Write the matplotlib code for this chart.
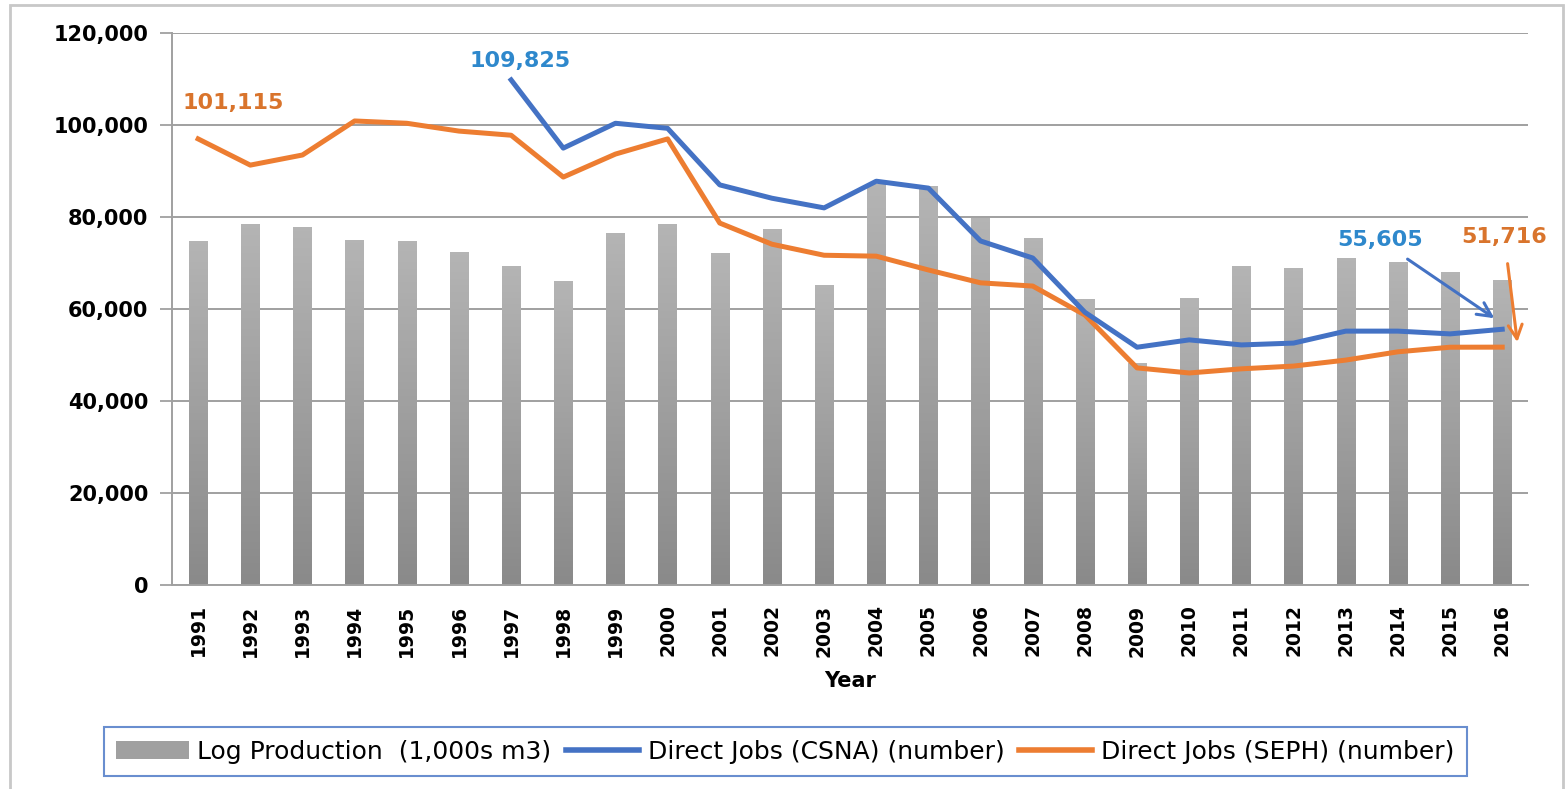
import numpy as np
import matplotlib
matplotlib.use("Agg")
import matplotlib.pyplot as plt
from matplotlib.patches import Patch, Rectangle
from matplotlib.lines import Line2D

# data
years = [str(y) for y in range(1991, 2017)]
log_production = [74.6, 78.3, 77.8, 75.0, 74.6, 72.4, 69.3, 65.9, 76.5, 78.5,
                  72.0, 77.4, 65.2, 87.0, 86.7, 79.8, 75.4, 62.0, 48.2, 62.4,
                  69.3, 68.9, 71.1, 70.2, 68.0, 66.3]
log_production = [v * 1000 for v in log_production]

csna_years = years[6:]
csna_jobs = [109825, 95000, 100400, 99300, 87000, 84100, 82000, 87800, 86300,
             74800, 71100, 59300, 51700, 53300, 52200, 52600, 55200, 55200,
             54600, 55605]
seph_jobs = [97000, 91300, 93500, 100900, 100400, 98700, 97800, 88700, 93700,
             97000, 78700, 74100, 71700, 71500, 68500, 65700, 65000, 58700,
             47200, 46100, 47000, 47600, 48900, 50700, 51700, 51716]

yticks = [0, 20000, 40000, 60000, 80000, 100000, 120000]

blue = "#4472C4"
orange = "#ED7D31"
blue_txt = "#2E88CC"
orange_txt = "#D9742C"

fig = plt.figure(figsize=(15.67, 7.89), dpi=100)
ax = fig.add_axes([0.1098, 0.2586, 0.8655, 0.6994])

x = np.arange(len(years))
xc = x[6:]

# bars with a vertical grey gradient (darker at the base)
bars = ax.bar(x, log_production, width=0.35, color="none", zorder=2)
grad = np.linspace(0, 1, 100).reshape(-1, 1)
cmap = matplotlib.colors.LinearSegmentedColormap.from_list("g", ["#8A8A8A", "#B4B4B4"])
for b in bars:
    bx, bw, bh = b.get_x(), b.get_width(), b.get_height()
    ax.imshow(grad, extent=[bx, bx + bw, 0, bh], cmap=cmap, aspect="auto",
              zorder=2, origin="lower")

ax.plot(xc, csna_jobs, color=blue, lw=3.6, zorder=4, solid_joinstyle="round")
ax.plot(x, seph_jobs, color=orange, lw=3.6, zorder=3, solid_joinstyle="round")

ax.set_xlim(-0.5, len(years) - 0.5)
ax.set_ylim(0, 120000)
ax.set_yticks(yticks)
ax.set_yticklabels([f"{v:,}" for v in yticks], fontsize=15, fontweight="bold")
ax.set_xticks(x)
ax.set_xticklabels(years, rotation=90, fontsize=13.5, fontweight="bold")
ax.tick_params(axis="y", length=9, color="#A0A0A0", width=1.3, pad=8)
ax.tick_params(axis="x", length=0, pad=14)
ax.grid(axis="y", color="#A0A0A0", lw=1.4, zorder=0)
ax.set_axisbelow(True)
for s in ["top", "right"]:
    ax.spines[s].set_visible(False)
for s in ["left", "bottom"]:
    ax.spines[s].set_color("#A0A0A0")
    ax.spines[s].set_linewidth(1.4)
ax.set_xlabel("Year", fontsize=15, fontweight="bold", labelpad=10)

# labels and arrows
ax.text(0.67, 104800, "101,115", color=orange_txt, fontsize=16, fontweight="bold",
        ha="center", va="center")
ax.text(6.17, 113900, "109,825", color=blue_txt, fontsize=16, fontweight="bold",
        ha="center", va="center")
ax.annotate("55,605", xy=(24.85, 58000), xytext=(22.65, 75000), color=blue_txt,
            fontsize=16, fontweight="bold", ha="center", va="center",
            arrowprops=dict(arrowstyle="->", color=blue, lw=2.2,
                            mutation_scale=25, shrinkA=8, shrinkB=0),
            annotation_clip=False)
ax.annotate("51,716", xy=(25.29, 52800), xytext=(25.04, 75650), color=orange_txt,
            fontsize=16, fontweight="bold", ha="center", va="center",
            arrowprops=dict(arrowstyle="->", color=orange, lw=2.2,
                            mutation_scale=25, shrinkA=10, shrinkB=0),
            annotation_clip=False)

handles = [Patch(facecolor="#A0A0A0", edgecolor="none"),
           Line2D([], [], color=blue, lw=4),
           Line2D([], [], color=orange, lw=4)]
labels = ["Log Production  (1,000s m3)", "Direct Jobs (CSNA) (number)",
          "Direct Jobs (SEPH) (number)"]
leg = fig.legend(handles, labels, loc="center", bbox_to_anchor=(0.501, 0.047),
                 ncol=3, frameon=True, fancybox=False, handlelength=2.9,
                 handletextpad=0.35, columnspacing=0.6, borderpad=0.5,
                 prop={"size": 18})
leg.get_frame().set_edgecolor(blue)
leg.get_frame().set_linewidth(1.5)

# outer chart border
fig.patches.append(Rectangle((10 / 1567, -0.01), 1553 / 1567, 1 - 5 / 789 + 0.01,
                             transform=fig.transFigure, fill=False,
                             edgecolor="#C8C8C8", lw=2))

fig.savefig("out.png", dpi=100)
